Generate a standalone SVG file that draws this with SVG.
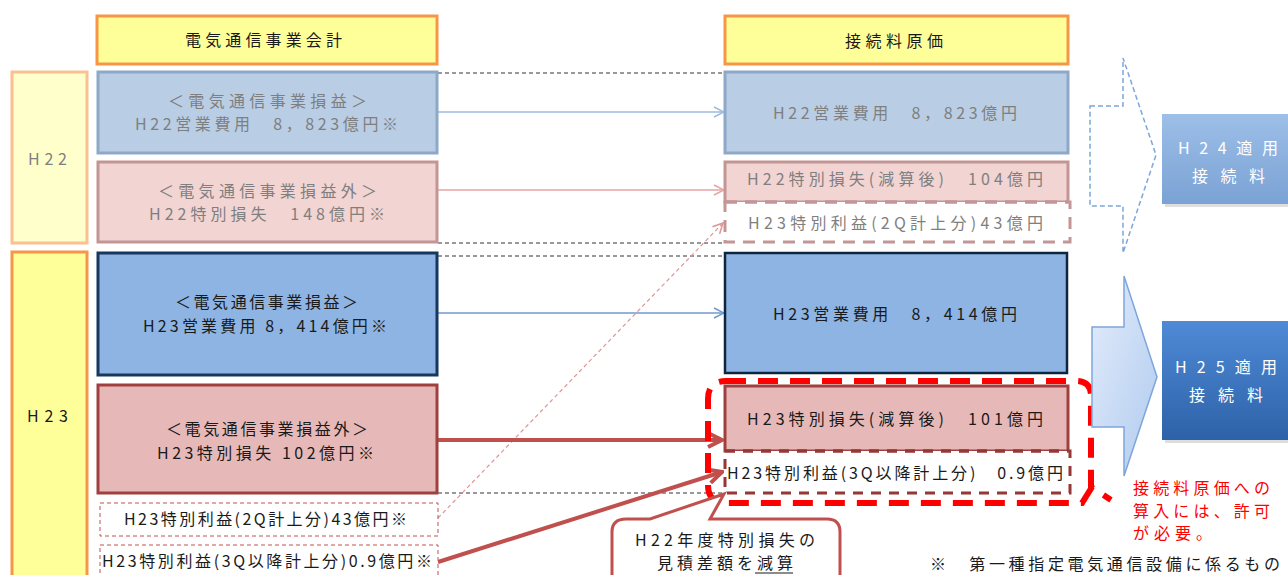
<svg xmlns="http://www.w3.org/2000/svg" width="1288" height="575" viewBox="0 0 1288 575">
<style>
.t{font-family:"Noto Sans CJK JP","Noto Sans",sans-serif;font-size:16px;dominant-baseline:central;text-anchor:middle;fill:#1a1a1a}
.g{fill:#7f7f7f}
.w{fill:#ffffff}
.r{fill:#ff0000;text-anchor:start}
.hdr{fill:#ffff99;stroke:#f79646;stroke-width:3}
.b22{fill:#b9cde5;stroke:#8ea8c8;stroke-width:3}
.p22{fill:#f2d4d3;stroke:#c39595;stroke-width:3}
.b23{fill:#8eb4e3;stroke:#17375e;stroke-width:3}
.p23{fill:#e6b9b8;stroke:#a0403e;stroke-width:3}
.guide{stroke:#333;stroke-width:1;stroke-dasharray:4 3;fill:none}
.thind{fill:#fff;stroke:#c0504d;stroke-width:1;stroke-dasharray:4 3}
</style>
<defs>
<marker id="mBL" viewBox="0 0 12 12" refX="11" refY="6" markerWidth="12" markerHeight="12" markerUnits="userSpaceOnUse" orient="auto"><path d="M1,1 L11,6 L1,11" fill="none" stroke="#9dbadf" stroke-width="1.5"/></marker>
<marker id="mPL" viewBox="0 0 12 12" refX="11" refY="6" markerWidth="12" markerHeight="12" markerUnits="userSpaceOnUse" orient="auto"><path d="M1,1 L11,6 L1,11" fill="none" stroke="#e6a4a4" stroke-width="1.5"/></marker>
<marker id="mBM" viewBox="0 0 12 12" refX="11" refY="6" markerWidth="12" markerHeight="12" markerUnits="userSpaceOnUse" orient="auto"><path d="M1,1 L11,6 L1,11" fill="none" stroke="#7198d0" stroke-width="1.5"/></marker>
<marker id="mPD" viewBox="0 0 12 12" refX="11" refY="6" markerWidth="12" markerHeight="12" markerUnits="userSpaceOnUse" orient="auto"><path d="M1,1 L11,6 L1,11" fill="none" stroke="#e09494" stroke-width="1.5"/></marker>
<marker id="mRT" viewBox="0 0 18 18" refX="16" refY="9" markerWidth="18" markerHeight="18" markerUnits="userSpaceOnUse" orient="auto"><path d="M2,2 L16,9 L2,16" fill="none" stroke="#c0504d" stroke-width="4"/></marker>
<linearGradient id="gArrow" x1="0" y1="0" x2="1" y2="1"><stop offset="0" stop-color="#e3ecfb"/><stop offset="1" stop-color="#b0cbef"/></linearGradient>
<linearGradient id="g24" x1="0" y1="0" x2="0" y2="1"><stop offset="0" stop-color="#9dbfe8"/><stop offset="1" stop-color="#7aa2d4"/></linearGradient>
<linearGradient id="g25" x1="0" y1="0" x2="0" y2="1"><stop offset="0" stop-color="#4f8ad6"/><stop offset="1" stop-color="#2d62a8"/></linearGradient>
</defs>

<g id="connectors">
<line class="guide" x1="438" y1="73" x2="725" y2="73"/>
<line class="guide" x1="438" y1="243" x2="725" y2="243"/>
<line class="guide" x1="438" y1="256" x2="725" y2="256"/>
<line class="guide" x1="438" y1="493" x2="725" y2="493"/>
<line x1="437" y1="112" x2="724" y2="112" stroke="#9dbadf" stroke-width="1.5" marker-end="url(#mBL)"/>
<line x1="437" y1="190" x2="724" y2="190" stroke="#e6a4a4" stroke-width="1.5" marker-end="url(#mPL)"/>
<line x1="437" y1="313" x2="724" y2="313" stroke="#7198d0" stroke-width="1.5" marker-end="url(#mBM)"/>
<line x1="438" y1="518" x2="723" y2="223" stroke="#e09494" stroke-width="1.2" stroke-dasharray="4 3" marker-end="url(#mPD)"/>
<line x1="438" y1="440" x2="722" y2="440" stroke="#c0504d" stroke-width="4" marker-end="url(#mRT)"/>
<line x1="438" y1="562" x2="722" y2="472" stroke="#c0504d" stroke-width="4" marker-end="url(#mRT)"/>
</g>

<g id="hdr-left"><rect class="hdr" x="97" y="16" width="340" height="48"/><text class="t" x="263.5" y="39" font-size="18" textLength="157">電気通信事業会計</text></g>
<g id="hdr-right"><rect class="hdr" x="725" y="16" width="343" height="48"/><text class="t" x="894" y="40" font-size="18" textLength="98">接続料原価</text></g>

<g id="col-h22"><rect x="12" y="72" width="75" height="171" fill="#ffffcc" stroke="#fac08f" stroke-width="3"/><text class="t g" x="47.5" y="158" font-size="17" textLength="39">H22</text></g>
<g id="col-h23"><rect x="12" y="252" width="75" height="340" fill="#ffff99" stroke="#f79646" stroke-width="3"/><text class="t" x="47.5" y="415" font-size="17" textLength="41">H23</text></g>

<g id="l-h22-op"><rect class="b22" x="98" y="72" width="339" height="81"/>
<text class="t g" x="267.5" y="100" textLength="199">＜電気通信事業損益＞</text>
<text class="t g" x="266.5" y="123" textLength="263">H22営業費用　8，823億円※</text></g>
<g id="l-h22-sp"><rect class="p22" x="98" y="162" width="339" height="80"/>
<text class="t g" x="267.5" y="190" textLength="219">＜電気通信事業損益外＞</text>
<text class="t g" x="267" y="213" textLength="236">H22特別損失　148億円※</text></g>
<g id="l-h23-op"><rect class="b23" x="98" y="253" width="339" height="122"/>
<text class="t" x="266.5" y="301" textLength="183">＜電気通信事業損益＞</text>
<text class="t" x="265" y="325" textLength="244">H23営業費用 8，414億円※</text></g>
<g id="l-h23-sp"><rect class="p23" x="98" y="385" width="339" height="108"/>
<text class="t" x="267" y="428" textLength="202">＜電気通信事業損益外＞</text>
<text class="t" x="265.5" y="452" textLength="217">H23特別損失 102億円※</text></g>
<g id="l-h23-2q"><rect class="thind" x="100" y="503" width="338" height="33"/>
<text class="t" x="265.5" y="518" textLength="283">H23特別利益(2Q計上分)43億円※</text></g>
<g id="l-h23-3q"><rect class="thind" x="100" y="545" width="338" height="40"/>
<text class="t" x="267" y="560" textLength="330">H23特別利益(3Q以降計上分)0.9億円※</text></g>

<g id="r-h22-op"><rect class="b22" x="725" y="72" width="343" height="81"/>
<text class="t g" x="895" y="112" font-size="17" textLength="244">H22営業費用　8，823億円</text></g>
<g id="r-h22-sp"><rect x="725" y="162" width="343" height="40" fill="#f2d4d3" stroke="#c39595" stroke-width="3"/>
<rect x="725" y="202" width="345" height="40" fill="#fff" stroke="#c39595" stroke-width="3" stroke-dasharray="12 8"/>
<line x1="725" y1="202" x2="1068" y2="202" stroke="#c39595" stroke-width="3" stroke-dasharray="12 8"/>
<text class="t g" x="895" y="178" font-size="17" textLength="296">H22特別損失(減算後)　104億円</text>
<text class="t g" x="895.5" y="222" font-size="17" textLength="295">H23特別利益(2Q計上分)43億円</text></g>
<g id="r-h23-op"><rect x="725" y="253" width="342" height="120" fill="#8eb4e3" stroke="#0f243e" stroke-width="2.5"/>
<text class="t" x="895" y="313" font-size="17" textLength="244">H23営業費用　8，414億円</text></g>
<g id="r-h23-sp"><rect class="p23" x="725" y="386" width="343" height="65"/>
<rect x="725" y="451" width="345" height="42" fill="#fff" stroke="#953735" stroke-width="3" stroke-dasharray="10 8"/>
<line x1="725" y1="451" x2="1068" y2="451" stroke="#953735" stroke-width="3" stroke-dasharray="10 8"/>
<text class="t" x="895" y="418" font-size="17" textLength="296">H23特別損失(減算後)　101億円</text>
<text class="t" x="895" y="472" textLength="336">H23特別利益(3Q以降計上分)　0.9億円</text></g>

<g id="permit-callout">
<path d="M726,381 H1076 Q1091,381 1091,396 V487 L1111,500 M1092,487 L1082,503 H726 Q708,503 708,485 V399 Q708,381 726,381" fill="none" stroke="#ff0000" stroke-width="6" stroke-dasharray="20 12"/>
</g>

<g id="note-callout">
<path d="M626,519 H650 L724,494 L710,519 H827 Q840,519 840,532 V590 H612 V532 Q612,519 626,519 Z" fill="#fff" stroke="#c0504d" stroke-width="3"/>
<text class="t" x="725" y="539" textLength="180">H22年度特別損失の</text>
<text class="t" x="725" y="562" textLength="136">見積差額を減算</text>
<line x1="755" y1="573" x2="793" y2="573" stroke="#1a1a1a" stroke-width="1.2"/>
</g>

<g id="arrow-h24"><path d="M1090,106 H1123 V58 L1156,155 L1123,253 V206 H1090 Z" fill="none" stroke="#7ea6dc" stroke-width="1.5" stroke-dasharray="5 3"/></g>
<g id="arrow-h25"><path d="M1092,327 H1124 V276 L1157,377 L1124,476 V427 H1092 Z" fill="url(#gArrow)" stroke="#7ea6dc" stroke-width="1.5"/></g>

<g id="box-h24"><rect x="1165" y="117" width="130" height="90" fill="#c8c8c8" opacity="0.6"/><rect x="1162" y="114" width="130" height="90" fill="url(#g24)"/>
<text class="t w" x="1228" y="147" font-size="23" textLength="100">H24適用</text>
<text class="t w" x="1228.5" y="175" font-size="23" textLength="73">接続料</text></g>
<g id="box-h25"><rect x="1165" y="324" width="130" height="119" fill="#c8c8c8" opacity="0.6"/><rect x="1162" y="321" width="130" height="119" fill="url(#g25)"/>
<text class="t w" x="1226" y="366" font-size="23" textLength="102">H25適用</text>
<text class="t w" x="1226" y="394" font-size="23" textLength="74">接続料</text></g>

<g id="permit-note">
<text class="t r" x="1133" y="487" font-size="18" textLength="137">接続料原価への</text>
<text class="t r" x="1133" y="510" font-size="18" textLength="137">算入には、許可</text>
<text class="t r" x="1133" y="532" font-size="18" textLength="79">が必要。</text>
</g>
<g id="footnote"><text class="t" x="930" y="563" font-size="17" style="text-anchor:start" textLength="350">※　第一種指定電気通信設備に係るもの</text></g>
</svg>
